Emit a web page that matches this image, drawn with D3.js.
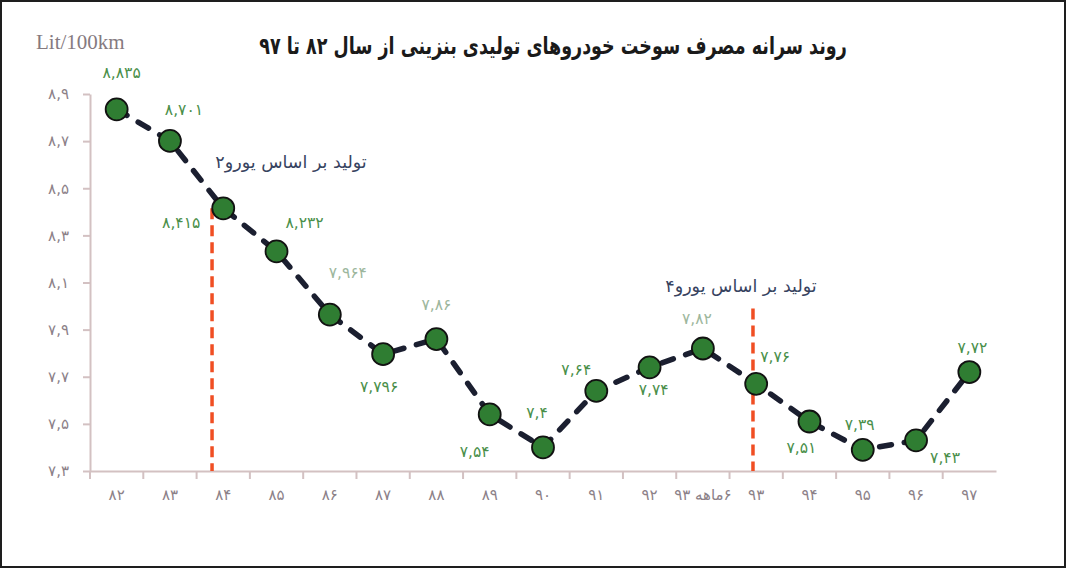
<!DOCTYPE html>
<html>
<head>
<meta charset="utf-8">
<script src="https://cdn.jsdelivr.net/npm/d3@7"></script>
<style>
body { margin: 0; background: #fff; }
svg { display: block; }
</style>
</head>
<body>
<svg id="chart" width="1066" height="568"></svg>
<script>
// data
const years = ['۸۲', '۸۳', '۸۴', '۸۵', '۸۶', '۸۷', '۸۸', '۸۹', '۹۰', '۹۱', '۹۲', '۶ماهه ۹۳', '۹۳', '۹۴', '۹۵', '۹۶', '۹۷'];
const consumption = [8.835, 8.701, 8.415, 8.232, 7.964, 7.796, 7.86, 7.54, 7.4, 7.64, 7.74, 7.82, 7.67, 7.51, 7.39, 7.43, 7.72];
const valueLabels = ['۸,۸۳۵', '۸,۷۰۱', '۸,۴۱۵', '۸,۲۳۲', '۷,۹۶۴', '۷,۷۹۶', '۷,۸۶', '۷,۵۴', '۷,۴', '۷,۶۴', '۷,۷۴', '۷,۸۲', '۷,۷۶', '۷,۵۱', '۷,۳۹', '۷,۴۳', '۷,۷۲'];
const yTicks = [7.3, 7.5, 7.7, 7.9, 8.1, 8.3, 8.5, 8.7, 8.9];
const yTickLabels = ['۷,۳', '۷,۵', '۷,۷', '۷,۹', '۸,۱', '۸,۳', '۸,۵', '۸,۷', '۸,۹'];
const euroYears = ['۸۴', '۹۳'];
const euroTop = [8.415, 7.99];
const euroLabels = ['تولید بر اساس یورو۲', 'تولید بر اساس یورو۴'];

const title = 'روند سرانه مصرف سوخت خودروهای تولیدی بنزینی از سال ۸۲ تا ۹۷';
const unit = 'Lit/100km';

// layout only: where each value label sits around its point (px)
const labelOffset = [[5, -36], [14, -30], [-42, 15], [28, -28], [18, -41], [-4, 33], [0, -34], [-15, 38], [-6, -34],
    [-20, -20], [4, 23], [-6, -29], [19, -26], [-8, 27], [-3, -24], [29, 18], [3, -24]];
const fadedLabels = [4, 6, 11];
const euroShift = [-0.21, -0.06];          // in bandwidths from the band centre
const euroTextOffset = [[79, -45], [-12, -21]];

const faFont = '"DejaVu Sans", sans-serif';
const RLM = '\u200F';

const svg = d3.select('#chart');

const xScale = d3.scaleBand()
    .domain(years)
    .range([90, 996]);

const yScale = d3.scaleLinear()
    .domain([7.3, 8.9])
    .range([471, 94]);

const cx = d => xScale(d) + xScale.bandwidth() / 2;

// title (squeezed, the original face is narrower and taller) and unit
svg.append('text')
    .attr('transform', 'translate(553,47) scale(0.73,1)')
    .attr('text-anchor', 'middle')
    .attr('dominant-baseline', 'middle')
    .style('font-family', faFont)
    .style('font-size', '24px')
    .style('font-weight', 'bold')
    .attr('fill', '#1a1a1a')
    .text(RLM + title);

svg.append('text')
    .attr('x', 36)
    .attr('y', 49)
    .style('font-family', '"Liberation Serif", serif')
    .style('font-size', '21px')
    .attr('fill', '#857a80')
    .text(unit);

// y axis
svg.append('g')
    .attr('transform', 'translate(90,0)')
    .call(d3.axisLeft(yScale)
        .tickValues(yTicks)
        .tickFormat((d, i) => yTickLabels[i])
        .tickSize(7)
        .tickSizeOuter(0)
        .tickPadding(14));

// x axis, labels on band centres
const xAxis = svg.append('g')
    .attr('transform', 'translate(0,471)')
    .call(d3.axisBottom(xScale)
        .tickFormat(d => RLM + d)
        .tickSize(0)
        .tickSizeOuter(0)
        .tickPadding(18));

// x ticks sit on the band edges
xAxis.selectAll('.edge')
    .data(years)
    .enter()
    .append('line')
    .attr('class', 'edge')
    .attr('x1', d => xScale(d))
    .attr('x2', d => xScale(d))
    .attr('y1', 0)
    .attr('y2', 8);

svg.selectAll('.domain, .tick line, .edge')
    .attr('stroke', '#d3c1c2')
    .attr('stroke-width', 2);
svg.selectAll('.tick text')
    .style('font-family', faFont)
    .style('font-size', '15px')
    .attr('fill', '#8c8188');

// euro standard markers
euroYears.forEach((yr, i) => {
    const x = cx(yr) + euroShift[i] * xScale.bandwidth();
    const yTop = yScale(euroTop[i]);
    svg.append('line')
        .attr('x1', x).attr('x2', x)
        .attr('y1', yTop).attr('y2', yScale(7.3))
        .attr('stroke', '#f04e23')
        .attr('stroke-width', 3.5)
        .attr('stroke-dasharray', '11,6');
    svg.append('text')
        .attr('x', x + euroTextOffset[i][0])
        .attr('y', yTop + euroTextOffset[i][1])
        .attr('text-anchor', 'middle')
        .attr('dominant-baseline', 'middle')
        .style('font-family', faFont)
        .style('font-size', '17.5px')
        .attr('fill', '#37435f')
        .text(RLM + euroLabels[i]);
});

// dashed trend line
svg.append('path')
    .datum(consumption)
    .attr('fill', 'none')
    .attr('stroke', '#1b1f30')
    .attr('stroke-width', 5.5)
    .attr('stroke-linecap', 'round')
    .attr('stroke-dasharray', '12,13')
    .attr('d', d3.line()
        .x((d, i) => cx(years[i]))
        .y(d => yScale(d)));

svg.selectAll('.point')
    .data(consumption)
    .enter()
    .append('circle')
    .attr('class', 'point')
    .attr('cx', (d, i) => cx(years[i]))
    .attr('cy', d => yScale(d))
    .attr('r', 11)
    .attr('fill', '#2f7d32')
    .attr('stroke', '#121212')
    .attr('stroke-width', 1.8);

svg.selectAll('.vlabel')
    .data(consumption)
    .enter()
    .append('text')
    .attr('class', 'vlabel')
    .attr('x', (d, i) => cx(years[i]) + labelOffset[i][0])
    .attr('y', (d, i) => yScale(d) + labelOffset[i][1])
    .attr('text-anchor', 'middle')
    .attr('dominant-baseline', 'middle')
    .style('font-family', faFont)
    .style('font-size', '15.5px')
    .attr('fill', (d, i) => fadedLabels.includes(i) ? '#9db79d' : '#4a8f4a')
    .text((d, i) => valueLabels[i]);

// frame
svg.append('rect')
    .attr('x', 1).attr('y', 1)
    .attr('width', 1064).attr('height', 566)
    .attr('fill', 'none')
    .attr('stroke', '#1e1e1e')
    .attr('stroke-width', 2);
</script>
</body>
</html>
